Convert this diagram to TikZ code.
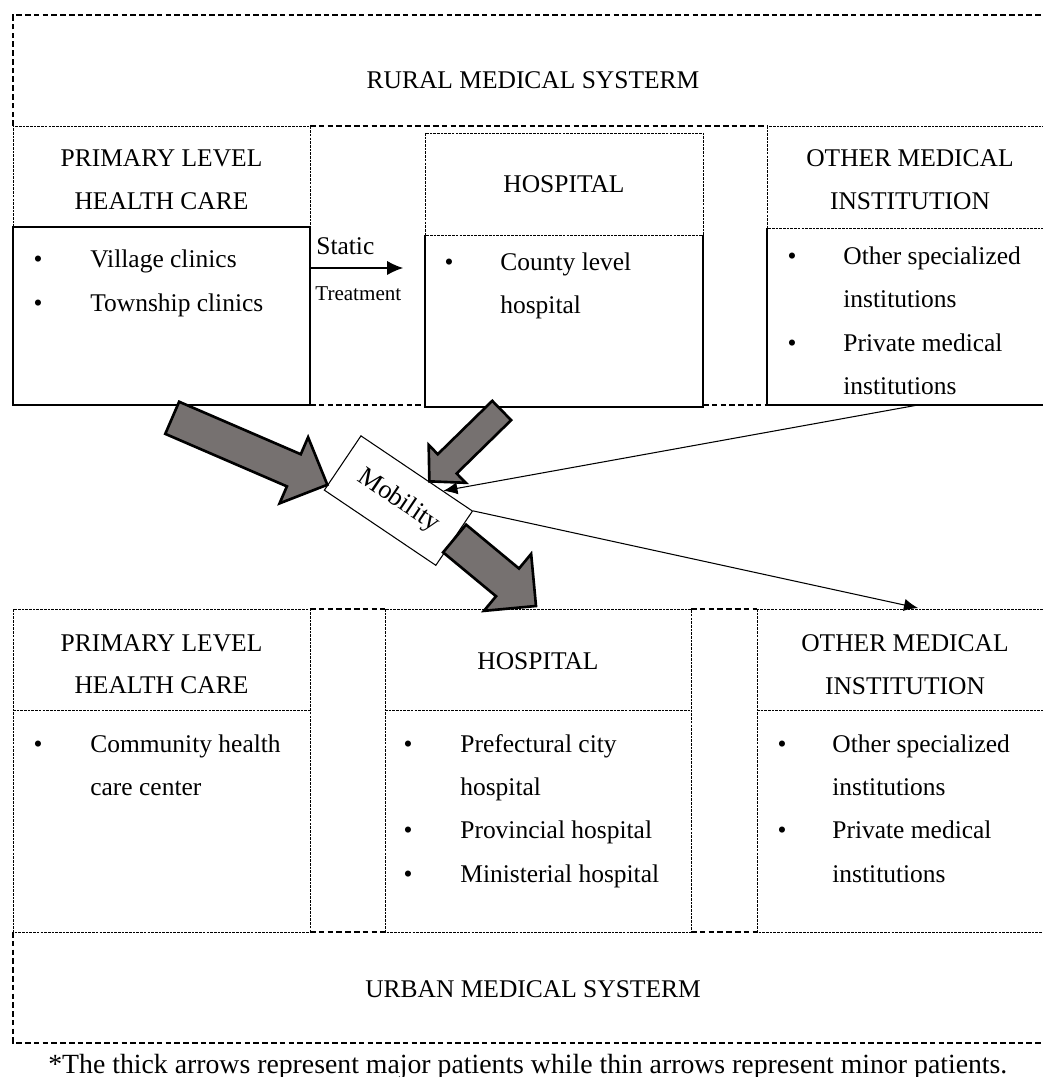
\documentclass[tikz,border=0pt]{standalone}
\usepackage{fontspec}
\setmainfont{Liberation Serif}
\usetikzlibrary{calc,arrows.meta}

\definecolor{fatgray}{RGB}{118,113,112}

% block arrow: tail, tip, shaft half width, head half width, head length
\newcommand{\fatarrow}[5]{%
  \coordinate (joint) at ($(#2)!#5!(#1)$);
  \draw[fatline] ($(#1)!#3!90:(#2)$) -- ($(joint)!#3!-90:(#1)$) -- ($(joint)!#4!-90:(#1)$) -- (#2)
    -- ($(joint)!#4!90:(#1)$) -- ($(joint)!#3!90:(#1)$) -- ($(#1)!#3!-90:(#2)$) -- cycle;}

\begin{document}
\begin{tikzpicture}[x=0.02cm, y=-0.02cm,
    outerline/.style={line width=0.6pt, dash pattern=on 3.2pt off 1.8pt},
    innerline/.style={line width=0.5pt, dash pattern=on 1.5pt off 0.6pt},
    solidline/.style={line width=0.6pt},
    txt/.style={font=\fontsize{14.5}{17}\selectfont, inner sep=0pt, anchor=base},
    itm/.style={txt, anchor=base west},
    dot/.style={txt},
    thinarrow/.style={line width=0.6pt, -{Latex[length=8pt,width=7pt]}},
    fatline/.style={draw=black, fill=fatgray, line width=1.5pt, line join=miter}]

    \useasboundingbox (0,0) rectangle (1043,1077);
    \clip (0,0) rectangle (1043,1077);

    % rural system
    \draw[outerline] (13,126) -- (13,15) -- (1053,15);
    \draw[outerline] (310,126) -- (767,126);
    \draw[outerline] (310,405) -- (425,405) (703,405) -- (767,405);
    \node[txt] (rtitle) at (533,89) {RURAL MEDICAL SYSTERM};

    \draw[innerline] (13,227) -- (13,126) -- (310,126) -- (310,227);
    \draw[solidline] (13,227) rectangle (310,405);
    \node[txt] (rprimh1) at (161.5,167) {PRIMARY LEVEL};
    \node[txt] (rprimh2) at (161.5,210) {HEALTH CARE};
    \node[dot] at (38,268) {\textbullet};
    \node[itm] (rprim1) at (90,268) {Village clinics};
    \node[dot] at (38,312) {\textbullet};
    \node[itm] (rprim2) at (90,312) {Township clinics};

    \draw[innerline] (425,133) rectangle (703,235);
    \draw[solidline] (425,235) -- (425,407) -- (703,407) -- (703,235);
    \node[txt] (rhosph) at (564,193) {HOSPITAL};
    \node[dot] at (449,271) {\textbullet};
    \node[itm] (rhosp1) at (500,271) {County level};
    \node[itm] (rhosp2) at (500,314) {hospital};

    \draw[innerline] (767,126) rectangle (1053,228);
    \draw[solidline] (767,228) -- (767,405) -- (1053,405);
    \node[txt] (rothh1) at (910,167) {OTHER MEDICAL};
    \node[txt] (rothh2) at (910,210) {INSTITUTION};
    \node[dot] at (792,265) {\textbullet};
    \node[itm] (roth1) at (843,265) {Other specialized};
    \node[itm] (roth2) at (843,308) {institutions};
    \node[dot] at (792,352) {\textbullet};
    \node[itm] (roth3) at (843,352) {Private medical};
    \node[itm] (roth4) at (843,395) {institutions};

    % static treatment
    \coordinate (staticfrom) at (310,268);
    \coordinate (staticto) at (403,268);
    \draw[line width=0.6pt, -{Latex[length=9pt,width=8pt]}] (staticfrom) -- (staticto);
    \node[itm] (static) at (316,255) {Static};
    \node[itm, font=\fontsize{12}{14}\selectfont] (treat) at (315,301) {Treatment};

    % urban system
    \draw[outerline] (310,609) -- (385,609) (691,609) -- (757,609);
    \draw[outerline] (310,932) -- (385,932) (691,932) -- (757,932);
    \draw[outerline] (13,932) -- (13,1043) -- (1053,1043);
    \node[txt] (utitle) at (533,997) {URBAN MEDICAL SYSTERM};

    \draw[innerline] (13,609) rectangle (310,932) (13,710) -- (310,710);
    \node[txt] (uprimh1) at (161.5,651) {PRIMARY LEVEL};
    \node[txt] (uprimh2) at (161.5,693) {HEALTH CARE};
    \node[dot] at (38,752) {\textbullet};
    \node[itm] (uprim1) at (90,752) {Community health};
    \node[itm] (uprim2) at (90,795) {care center};

    \draw[innerline] (385,609) rectangle (691,932) (385,710) -- (691,710);
    \node[txt] (uhosph) at (538,669) {HOSPITAL};
    \node[dot] at (408,752) {\textbullet};
    \node[itm] (uhosp1) at (460,752) {Prefectural city};
    \node[itm] (uhosp2) at (460,795) {hospital};
    \node[dot] at (408,838) {\textbullet};
    \node[itm] (uhosp3) at (460,838) {Provincial hospital};
    \node[dot] at (408,882) {\textbullet};
    \node[itm] (uhosp4) at (460,882) {Ministerial hospital};

    \draw[innerline] (757,609) rectangle (1053,932) (757,710) -- (1053,710);
    \node[txt] (uothh1) at (905,651) {OTHER MEDICAL};
    \node[txt] (uothh2) at (905,694) {INSTITUTION};
    \node[dot] at (782,752) {\textbullet};
    \node[itm] (uoth1) at (832,752) {Other specialized};
    \node[itm] (uoth2) at (832,795) {institutions};
    \node[dot] at (782,838) {\textbullet};
    \node[itm] (uoth3) at (832,838) {Private medical};
    \node[itm] (uoth4) at (832,882) {institutions};

    \node[itm, font=\fontsize{15.8}{18}\selectfont] (fnote) at (48,1073)
        {*The thick arrows represent major patients while thin arrows represent minor patients.};

    % mobility
    \node[draw, fill=white, line width=0.6pt, rotate=-34, minimum width=2.69cm, minimum height=1.31cm,
        inner sep=0pt, font=\fontsize{15}{17}\selectfont] (mob) at (398.4,500.6) {Mobility};

    \coordinate (rprimout) at (172.2,417.8);
    \coordinate (rhospout) at (501.7,410.5);
    \coordinate (mobin1) at ($(mob.west)!0.8!(mob.south west)$);
    \coordinate (mobin2) at ($(mob.north)!0.22!(mob.north east)$);
    \coordinate (mobin3) at ($(mob.north)!0.47!(mob.north east)$);
    \coordinate (uhospin) at (536,606);
    \coordinate (rothout) at (918,405);
    \coordinate (uothin) at (918,608);

    \fatarrow{rprimout}{mobin1}{0.35cm}{0.72cm}{0.73cm}
    \fatarrow{rhospout}{mobin2}{0.27cm}{0.53cm}{0.5cm}
    \fatarrow{mob.east}{uhospin}{0.36cm}{0.74cm}{0.74cm}

    \draw[thinarrow] (rothout) -- (mobin3);
    \draw[thinarrow] (mob.north east) -- (uothin);

\end{tikzpicture}
\end{document}
